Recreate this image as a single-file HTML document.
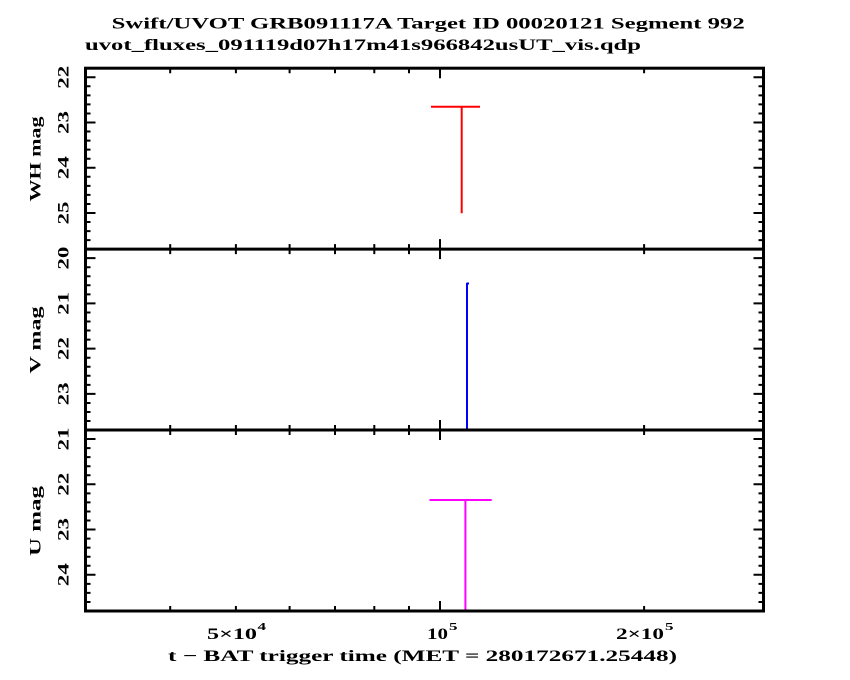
<!DOCTYPE html>
<html>
<head>
<meta charset="utf-8">
<style>
html,body{margin:0;padding:0;background:#fff;}
svg{display:block;}
text{font-family:"Liberation Serif","DejaVu Serif",serif;font-weight:bold;fill:#000;}
</style>
</head>
<body>
<svg width="850" height="680" viewBox="0 0 850 680" xmlns="http://www.w3.org/2000/svg">
<rect x="0" y="0" width="850" height="680" fill="#fff"/>

<!-- Titles -->
<text x="111.7" y="28.3" font-size="16" textLength="633" lengthAdjust="spacingAndGlyphs">Swift/UVOT GRB091117A Target ID 00020121 Segment 992</text>
<text x="85" y="50" font-size="16" textLength="556" lengthAdjust="spacingAndGlyphs">uvot_fluxes_091119d07h17m41s966842usUT_vis.qdp</text>

<!-- Data: WH (red) -->
<g stroke="#ff0000" stroke-width="2" fill="none">
<path d="M431 106.7H480M461.7 106.7V213.3"/>
</g>
<!-- Data: V (blue) -->
<g stroke="#0000ff" stroke-width="2" fill="none">
<path d="M466.5 283.5H469M467 283V430"/>
</g>
<!-- Data: U (magenta) -->
<g stroke="#ff00ff" stroke-width="2" fill="none">
<path d="M429.5 500H491.7M465.4 500V611"/>
</g>

<!-- Frame -->
<g stroke="#000" stroke-width="3" fill="none">
<rect x="85.5" y="68.2" width="678" height="542.8"/>
<path d="M85.5 249.1H763.5M85.5 430H763.5"/>
</g>

<!-- Y ticks -->
<g stroke="#000" stroke-width="2" fill="none">
<path d="
M85.5 77.25h10M85.5 86.3h5M85.5 95.35h5M85.5 104.4h5M85.5 113.45h5M85.5 122.5h10M85.5 131.55h5M85.5 140.6h5M85.5 149.65h5M85.5 158.7h5M85.5 167.75h10M85.5 176.8h5M85.5 185.85h5M85.5 194.9h5M85.5 203.95h5M85.5 213h10M85.5 222.05h5M85.5 231.1h5M85.5 240.15h5
M763.5 77.25h-10M763.5 86.3h-5M763.5 95.35h-5M763.5 104.4h-5M763.5 113.45h-5M763.5 122.5h-10M763.5 131.55h-5M763.5 140.6h-5M763.5 149.65h-5M763.5 158.7h-5M763.5 167.75h-10M763.5 176.8h-5M763.5 185.85h-5M763.5 194.9h-5M763.5 203.95h-5M763.5 213h-10M763.5 222.05h-5M763.5 231.1h-5M763.5 240.15h-5
M85.5 258.15h10M85.5 267.2h5M85.5 276.25h5M85.5 285.3h5M85.5 294.35h5M85.5 303.4h10M85.5 312.45h5M85.5 321.5h5M85.5 330.55h5M85.5 339.6h5M85.5 348.65h10M85.5 357.7h5M85.5 366.75h5M85.5 375.8h5M85.5 384.85h5M85.5 393.9h10M85.5 402.95h5M85.5 412h5M85.5 421.05h5
M763.5 258.15h-10M763.5 267.2h-5M763.5 276.25h-5M763.5 285.3h-5M763.5 294.35h-5M763.5 303.4h-10M763.5 312.45h-5M763.5 321.5h-5M763.5 330.55h-5M763.5 339.6h-5M763.5 348.65h-10M763.5 357.7h-5M763.5 366.75h-5M763.5 375.8h-5M763.5 384.85h-5M763.5 393.9h-10M763.5 402.95h-5M763.5 412h-5M763.5 421.05h-5
M85.5 439.05h10M85.5 448.1h5M85.5 457.15h5M85.5 466.2h5M85.5 475.25h5M85.5 484.3h10M85.5 493.35h5M85.5 502.4h5M85.5 511.45h5M85.5 520.5h5M85.5 529.55h10M85.5 538.6h5M85.5 547.65h5M85.5 556.7h5M85.5 565.75h5M85.5 574.8h10M85.5 583.85h5M85.5 592.9h5M85.5 601.95h5
M763.5 439.05h-10M763.5 448.1h-5M763.5 457.15h-5M763.5 466.2h-5M763.5 475.25h-5M763.5 484.3h-10M763.5 493.35h-5M763.5 502.4h-5M763.5 511.45h-5M763.5 520.5h-5M763.5 529.55h-10M763.5 538.6h-5M763.5 547.65h-5M763.5 556.7h-5M763.5 565.75h-5M763.5 574.8h-10M763.5 583.85h-5M763.5 592.9h-5M763.5 601.95h-5
"/>
</g>

<!-- X ticks -->
<g stroke="#000" stroke-width="2" fill="none">
<path d="
M170.2 68.2v5M235.9 68.2v5M289.6 68.2v5M335 68.2v5M374.3 68.2v5M409 68.2v5M644.1 68.2v5M440 68.2v10
M170.2 244.1v10M235.9 244.1v10M289.6 244.1v10M335 244.1v10M374.3 244.1v10M409 244.1v10M644.1 244.1v10M440 239.1v20
M170.2 425v10M235.9 425v10M289.6 425v10M335 425v10M374.3 425v10M409 425v10M644.1 425v10M440 420v20
M170.2 611v-5M235.9 611v-5M289.6 611v-5M335 611v-5M374.3 611v-5M409 611v-5M644.1 611v-5M440 611v-10
"/>
</g>

<!-- Y tick labels -->
<g font-size="16" text-anchor="middle">
<text transform="translate(68.5,77.25) rotate(-90)" textLength="23" lengthAdjust="spacingAndGlyphs">22</text>
<text transform="translate(68.5,122.5) rotate(-90)" textLength="23" lengthAdjust="spacingAndGlyphs">23</text>
<text transform="translate(68.5,167.75) rotate(-90)" textLength="23" lengthAdjust="spacingAndGlyphs">24</text>
<text transform="translate(68.5,213) rotate(-90)" textLength="23" lengthAdjust="spacingAndGlyphs">25</text>

<text transform="translate(68.5,258.15) rotate(-90)" textLength="23" lengthAdjust="spacingAndGlyphs">20</text>
<text transform="translate(68.5,303.4) rotate(-90)" textLength="23" lengthAdjust="spacingAndGlyphs">21</text>
<text transform="translate(68.5,348.65) rotate(-90)" textLength="23" lengthAdjust="spacingAndGlyphs">22</text>
<text transform="translate(68.5,393.9) rotate(-90)" textLength="23" lengthAdjust="spacingAndGlyphs">23</text>

<text transform="translate(68.5,439.05) rotate(-90)" textLength="23" lengthAdjust="spacingAndGlyphs">21</text>
<text transform="translate(68.5,484.3) rotate(-90)" textLength="23" lengthAdjust="spacingAndGlyphs">22</text>
<text transform="translate(68.5,529.55) rotate(-90)" textLength="23" lengthAdjust="spacingAndGlyphs">23</text>
<text transform="translate(68.5,574.8) rotate(-90)" textLength="23" lengthAdjust="spacingAndGlyphs">24</text>
</g>

<!-- Y axis labels -->
<g font-size="16" text-anchor="middle">
<text transform="translate(40.5,159) rotate(-90)" textLength="85" lengthAdjust="spacingAndGlyphs">WH mag</text>
<text transform="translate(40.5,340) rotate(-90)" textLength="67" lengthAdjust="spacingAndGlyphs">V mag</text>
<text transform="translate(40.5,521) rotate(-90)" textLength="70" lengthAdjust="spacingAndGlyphs">U mag</text>
</g>

<!-- X tick labels -->
<g font-size="16">
<text x="207" y="639" textLength="50" lengthAdjust="spacingAndGlyphs">5×10</text>
<text x="257.5" y="630" font-size="11" textLength="8.5" lengthAdjust="spacingAndGlyphs">4</text>
<text x="427" y="639" textLength="21" lengthAdjust="spacingAndGlyphs">10</text>
<text x="449" y="630" font-size="11" textLength="8.5" lengthAdjust="spacingAndGlyphs">5</text>
<text x="616" y="639" textLength="48" lengthAdjust="spacingAndGlyphs">2×10</text>
<text x="665" y="630" font-size="11" textLength="8.5" lengthAdjust="spacingAndGlyphs">5</text>
</g>

<!-- X axis label -->
<text x="168" y="661" font-size="16" textLength="509" lengthAdjust="spacingAndGlyphs">t − BAT trigger time (MET = 280172671.25448)</text>

</svg>
</body>
</html>
